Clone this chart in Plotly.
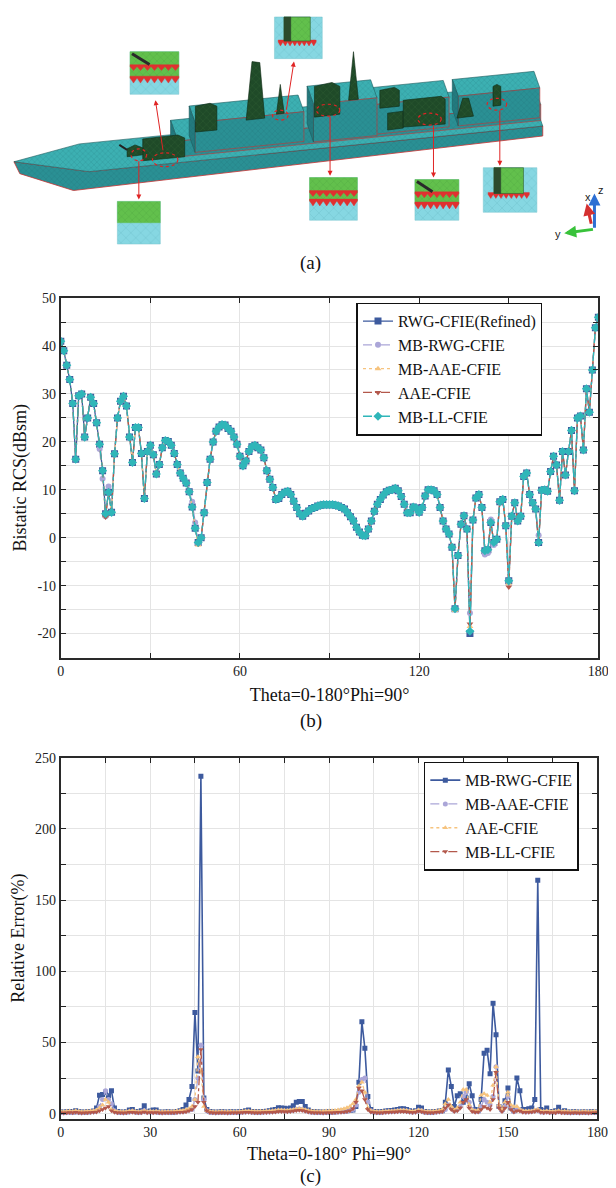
import plotly.graph_objects as go

W, H = 616, 1188
SERIF = 'Liberation Serif'

theta = list(range(0, 181))

# ---- (b) bistatic RCS in dBsm, one value per degree ----
rcs_rwg_refined = [
    41, 39, 36, 33, 28, 16.4, 29.6, 30, 21, 25,
    29.3, 28, 24, 19.5, 14, 5, 9.5, 5.3, 17.5, 25,
    28.5, 29.5, 27.5, 21, 15.7, 23, 23, 17.6, 8.2, 18,
    19.3, 17.3, 13.3, 15.3, 18.8, 20.3, 20.1, 19.3, 17.6, 15.3,
    13.5, 12.4, 11.4, 9.6, 6.4, 2, -1, 0, 5.2, 11.5,
    16.4, 20, 22.2, 23.1, 23.6, 23.5, 22.8, 22.2, 21, 19.5,
    17, 15, 16, 18, 19, 19.3, 18.8, 18.3, 16.7, 14,
    12.2, 10.5, 8, 8.2, 9, 9.5, 9.7, 9, 7.6, 6.3,
    5, 4.5, 5.1, 5.6, 6.1, 6.3, 6.6, 6.8, 6.9, 6.9,
    6.9, 6.9, 6.8, 6.6, 6.3, 6, 5.2, 4.4, 3.5, 2.2,
    1.2, 0.5, 0.4, 1.8, 3.5, 5.5, 7, 8, 8.9, 9.6,
    9.9, 10, 10.3, 9.8, 8.6, 7, 5.2, 5.2, 6.4, 6.2,
    5.3, 6.3, 8.7, 10, 10, 9.8, 9, 6.3, 3.5, 1.8,
    0.8, -2, -14.8, -3.7, 2.8, 4.6, 1.8, -20, 3.7, 8.3,
    9, 6.3, -2.7, -2.5, 3.2, -1, -0.3, 7.5, 8, 2.5,
    -9, 4.5, 7.3, 3.5, 4.5, 12.8, 13.5, 9, 7.3, 6,
    -1, 9.9, 10, 9.7, 13.8, 17, 15.2, 7.8, 18, 13.1,
    18, 22.4, 9.8, 25, 25.4, 18.3, 31.1, 26.2, 35, 43.8,
    46]

# the other solvers sit on top of the refined curve except at a few nulls
mb_rwg_changes = {13: 18.5, 14: 12.3, 15: 4.5, 16: 10.7, 44: 7.5, 45: 3.2, 46: -1.2,
                  137: -15.7, 142: -3.5, 143: -3.2, 144: 3.8, 145: -1.5, 160: 0.5}
mb_aae_changes = {15: 4.6, 46: -1.5, 132: -15.2, 137: -18.5, 150: -9.5}
aae_changes = {15: 4.3, 46: -1.3, 132: -15, 137: -18, 150: -10.3}
mb_ll_changes = {137: -19.5}

rcs_mb_rwg = [mb_rwg_changes.get(i, v) for i, v in enumerate(rcs_rwg_refined)]
rcs_mb_aae = [mb_aae_changes.get(i, v) for i, v in enumerate(rcs_rwg_refined)]
rcs_aae = [aae_changes.get(i, v) for i, v in enumerate(rcs_rwg_refined)]
rcs_mb_ll = [mb_ll_changes.get(i, v) for i, v in enumerate(rcs_rwg_refined)]

rcs_ticks = [-20, -10, 0, 10, 20, 30, 40, 50]

# ---- (c) relative error in % ----
err_mb_rwg = [
    1.2, 1.0, 1.3, 1.5, 1.2, 2.0, 1.4, 1.1, 1.0, 1.3,
    1.5, 1.8, 4.0, 13.0, 13.5, 15.0, 12.5, 16.0, 4.0, 1.5,
    1.2, 1.0, 1.4, 2.5, 3.0, 1.5, 1.2, 2.0, 5.5, 1.5,
    1.8, 2.5, 2.5, 1.2, 1.0, 1.1, 1.3, 1.0, 1.2, 1.5,
    2.0, 3.0, 6.0, 10.0, 19.0, 71.0, 30.0, 237.0, 11.0, 3.0,
    1.5, 1.2, 1.0, 1.1, 1.3, 1.2, 1.0, 1.4, 1.2, 1.1,
    1.3, 1.5, 2.0, 2.5, 1.5, 1.4, 1.2, 1.3, 1.5, 1.6,
    2.0, 2.5, 3.0, 4.2, 4.0, 3.8, 3.5, 4.0, 5.5, 8.0,
    8.5, 8.5, 5.0, 2.5, 1.5, 1.3, 1.2, 1.1, 1.0, 1.2,
    1.3, 1.2, 1.4, 1.5, 1.6, 1.8, 2.0, 2.2, 2.5, 5.0,
    22.0, 64.5, 46.0, 12.0, 3.0, 1.5, 1.3, 1.2, 1.5, 1.8,
    2.0, 2.2, 2.5, 3.0, 3.5, 3.5, 3.0, 2.0, 1.5, 2.0,
    4.5, 4.0, 1.5, 1.2, 1.0, 1.3, 1.5, 1.8, 2.0, 8.0,
    30.6, 19.0, 5.0, 12.5, 14.0, 8.0, 11.0, 21.0, 12.5, 3.0,
    2.0, 10.0, 42.5, 44.6, 28.0, 77.5, 55.5, 5.0, 3.0, 9.0,
    18.0, 4.0, 2.0, 25.0, 16.0, 3.0, 3.0, 3.5, 4.0, 10.0,
    164.0, 3.0, 2.0, 4.0, 1.5, 1.5, 2.0, 4.5, 1.5, 2.0,
    1.2, 1.0, 1.3, 1.2, 1.0, 1.1, 1.2, 1.0, 1.3, 1.2,
    1.0]
err_mb_aae = [
    0.8, 0.6, 0.9, 1.0, 0.8, 1.2, 0.9, 0.7, 0.8, 1.0,
    1.1, 1.3, 2.0, 5.0, 10.0, 16.0, 10.0, 7.0, 2.0, 1.0,
    0.8, 0.7, 0.9, 1.2, 1.5, 1.0, 0.8, 1.0, 2.0, 1.0,
    1.2, 1.0, 1.1, 0.8, 0.7, 0.8, 0.9, 0.8, 1.0, 1.1,
    1.3, 1.5, 2.0, 2.5, 3.0, 10.0, 25.0, 48.0, 10.0, 2.0,
    1.0, 0.8, 0.7, 0.8, 0.9, 0.8, 0.7, 0.9, 0.8, 0.8,
    0.9, 1.0, 1.2, 1.3, 1.0, 0.9, 0.8, 0.9, 1.0, 1.1,
    1.2, 1.4, 1.6, 2.0, 2.0, 1.9, 1.8, 2.0, 2.4, 3.0,
    3.2, 3.0, 2.2, 1.5, 1.0, 0.9, 0.8, 0.8, 0.7, 0.8,
    0.9, 0.9, 1.0, 1.1, 1.3, 1.5, 1.8, 2.2, 3.0, 6.0,
    15.0, 24.0, 25.0, 8.0, 2.0, 1.0, 0.9, 0.8, 1.0, 1.2,
    1.3, 1.4, 1.5, 1.8, 2.0, 2.0, 1.8, 1.4, 1.0, 1.3,
    2.2, 2.0, 1.0, 0.9, 0.8, 1.0, 1.2, 1.4, 1.8, 3.0,
    6.0, 4.0, 2.0, 3.0, 5.0, 12.0, 15.0, 8.0, 3.0, 1.5,
    1.5, 5.0, 10.0, 8.0, 6.0, 12.0, 33.0, 5.0, 2.0, 5.0,
    12.0, 4.0, 1.5, 3.0, 2.5, 1.5, 1.2, 1.3, 1.5, 2.0,
    2.5, 1.2, 1.0, 1.3, 1.0, 0.9, 1.0, 1.5, 0.9, 1.0,
    0.8, 0.7, 0.9, 0.8, 0.7, 0.8, 0.9, 0.7, 0.8, 0.9,
    0.8]
err_aae = [
    1.5, 1.3, 1.6, 1.8, 1.5, 2.0, 1.7, 1.4, 1.5, 1.6,
    1.8, 2.0, 2.5, 4.0, 6.0, 10.0, 8.0, 3.0, 1.8, 1.5,
    1.4, 1.3, 1.5, 1.8, 2.0, 1.6, 1.4, 1.5, 2.0, 1.5,
    1.6, 1.5, 1.6, 1.4, 1.3, 1.4, 1.5, 1.4, 1.6, 1.8,
    2.0, 2.3, 2.8, 3.5, 5.0, 10.0, 40.0, 30.0, 5.0, 2.0,
    1.6, 1.4, 1.3, 1.4, 1.5, 1.4, 1.3, 1.5, 1.4, 1.4,
    1.5, 1.6, 1.8, 1.9, 1.7, 1.6, 1.5, 1.6, 1.7, 1.8,
    1.9, 2.0, 2.2, 2.5, 2.5, 2.4, 2.3, 2.5, 2.8, 3.2,
    3.5, 3.3, 2.8, 2.2, 1.8, 1.6, 1.5, 1.5, 1.6, 1.8,
    1.9, 2.0, 2.2, 2.5, 3.0, 3.5, 4.2, 5.0, 7.0, 10.0,
    19.5, 22.0, 15.0, 4.0, 2.0, 1.6, 1.5, 1.4, 1.6, 1.7,
    1.8, 1.9, 2.0, 2.2, 2.4, 2.4, 2.2, 1.9, 1.6, 1.8,
    2.5, 2.2, 1.6, 1.5, 1.5, 1.7, 1.9, 2.2, 3.0, 7.0,
    10.0, 5.0, 2.5, 4.0, 8.0, 17.0, 17.0, 6.0, 2.5, 2.0,
    2.5, 13.0, 14.0, 13.0, 8.0, 20.0, 33.0, 6.0, 3.0, 8.0,
    15.0, 6.0, 5.0, 5.0, 3.0, 2.0, 1.8, 1.8, 1.9, 2.5,
    3.0, 1.8, 1.6, 1.8, 1.6, 1.5, 1.6, 2.0, 1.5, 1.6,
    1.5, 1.4, 1.5, 1.5, 1.4, 1.5, 1.5, 1.4, 1.5, 1.6,
    1.5]
err_mb_ll = [
    0.6, 0.5, 0.7, 0.8, 0.6, 0.9, 0.7, 0.5, 0.6, 0.7,
    0.8, 0.9, 1.2, 2.0, 3.0, 4.0, 5.0, 2.0, 1.0, 0.7,
    0.6, 0.5, 0.7, 0.9, 1.0, 0.8, 0.6, 0.7, 1.2, 0.7,
    0.8, 0.7, 0.8, 0.6, 0.5, 0.6, 0.7, 0.6, 0.7, 0.8,
    0.9, 1.0, 1.3, 2.0, 3.0, 5.0, 8.0, 45.0, 8.0, 2.0,
    0.8, 0.6, 0.5, 0.6, 0.7, 0.6, 0.5, 0.7, 0.6, 0.6,
    0.7, 0.8, 0.9, 1.0, 0.8, 0.7, 0.6, 0.7, 0.8, 0.8,
    0.9, 1.0, 1.2, 1.5, 1.5, 1.4, 1.3, 1.5, 1.8, 2.2,
    2.4, 2.2, 1.6, 1.1, 0.8, 0.7, 0.6, 0.6, 0.5, 0.6,
    0.7, 0.7, 0.8, 0.9, 1.0, 1.2, 1.5, 2.0, 3.5, 8.0,
    18.0, 16.0, 10.0, 3.0, 1.2, 0.8, 0.7, 0.6, 0.7, 0.9,
    1.0, 1.1, 1.2, 1.4, 1.5, 1.5, 1.3, 1.0, 0.8, 1.0,
    1.6, 1.4, 0.8, 0.7, 0.6, 0.7, 0.9, 1.1, 1.5, 4.0,
    6.0, 3.0, 1.5, 2.0, 4.0, 8.0, 10.0, 4.0, 1.5, 1.0,
    1.2, 3.0, 5.0, 4.0, 3.0, 10.0, 29.0, 4.0, 1.5, 4.0,
    8.0, 3.0, 1.2, 2.0, 1.8, 1.0, 0.9, 1.0, 1.1, 1.5,
    2.0, 0.9, 0.7, 1.0, 0.7, 0.6, 0.7, 1.1, 0.6, 0.7,
    0.6, 0.5, 0.7, 0.6, 0.5, 0.6, 0.7, 0.5, 0.6, 0.7,
    0.6]

BLUE = '#3d5a9e'
LAVENDER = '#aba6d8'
ORANGE = '#f6c37e'
BROWN = '#b3584b'
TEAL = '#2fb6b9'


def py(y):
    # page pixel row -> paper fraction
    return 1 - y / H


fig = go.Figure()

# ---------------- (a) ship sketch, drawn in page pixels on a hidden axis ----------------
def P(u, v, h=0):
    return (79 + 465 * u - 10 * v, 158 - 46 * u - 28 * v - h)


def poly(pts, fill, line='#1c5a5c', lw=0.6, pattern=None):
    xs = [p[0] for p in pts] + [pts[0][0]]
    ys = [p[1] for p in pts] + [pts[0][1]]
    kw = {}
    if pattern is not None:
        kw['fillpattern'] = pattern
    fig.add_trace(go.Scatter(x=xs, y=ys, mode='lines', fill='toself', fillcolor=fill,
                             line=dict(color=line, width=lw), hoverinfo='skip',
                             showlegend=False, xaxis='x3', yaxis='y3', **kw))


def mesh(bg, fg='#16565a', size=4, sol=0.12):
    return dict(shape='x', size=size, solidity=sol, fgcolor=fg, bgcolor=bg)


DECK = '#3cb0b2'
SIDE = '#2a9094'
FRONT = '#237a7e'
GREEN = '#1f4a28'

tip = (2, 148)
poly([tip, P(0, 0), P(1, 0), (P(1, 0)[0], P(1, 0)[1] + 10), (63, 177), (8, 160)], SIDE,
     line='#c83232', lw=0.8, pattern=mesh(SIDE))
poly([tip, P(0, 1), P(1, 1), P(1, 0), P(0, 0)], DECK, pattern=mesh(DECK))


def block(u0, u1, v0, v1, h):
    poly([P(u0, v0, h), P(u1, v0, h), P(u1, v1, h), P(u0, v1, h)], DECK, pattern=mesh(DECK))
    poly([P(u0, v0), P(u1, v0), P(u1, v0, h), P(u0, v0, h)], SIDE, line='#c83232', pattern=mesh(SIDE))
    poly([P(u0, v0), P(u0, v1), P(u0, v1, h), P(u0, v0, h)], FRONT, pattern=mesh(FRONT))


block(0.2, 1.0, 0.2, 0.95, 16)
block(0.82, 1.0, 0.3, 0.9, 30)
block(0.64, 0.8, 0.3, 0.9, 30)
block(0.5, 0.64, 0.25, 0.9, 38)
block(0.24, 0.48, 0.3, 0.9, 30)

objects = [
    [(134, 125), (170, 121), (177, 124), (177, 143), (134, 147)],
    [(118, 143), (134, 141), (134, 134), (126, 131), (118, 135)],
    [(188, 92), (203, 89), (210, 92), (210, 116), (188, 118)],
    [(240, 106), (259, 104), (254, 48), (246, 47)],
    [(271, 100), (279, 99), (275, 70)],
    [(310, 72), (328, 68), (336, 72), (336, 100), (310, 103)],
    [(345, 86), (355, 85), (350, 37)],
    [(377, 76), (392, 73), (397, 76), (397, 92), (377, 94)],
    [(385, 99), (401, 97), (401, 114), (385, 116)],
    [(401, 86), (440, 82), (444, 85), (444, 110), (401, 113)],
    [(456, 104), (473, 102), (468, 84), (462, 84)],
    [(493, 92), (501, 91), (501, 72), (497, 70), (493, 72)],
]
for ob in objects:
    poly(ob, GREEN, line='#0f2a14', lw=0.6, pattern=mesh(GREEN, fg='#3f6f3f', size=5, sol=0.15))
fig.add_trace(go.Scatter(x=[118, 110], y=[136, 131], mode='lines', line=dict(color='#222', width=2),
                         hoverinfo='skip', showlegend=False, xaxis='x3', yaxis='y3'))


def zigzag(x0, x1, y, n, depth):
    pts = []
    step = (x1 - x0) / n
    for k in range(n):
        pts.append((x0 + k * step, y))
        pts.append((x0 + (k + 0.5) * step, y + depth))
    pts.append((x1, y))
    pts.append((x1, y - 2))
    pts.append((x0, y - 2))
    return pts


LIGHT_CYAN = '#86d7e2'
LIGHT_GREEN = '#62c04c'
insets = [
    (121, 37, 171, 80, 0.62, 'rod'),
    (269, 2, 318, 44, 0.6, 'cyl'),
    (108, 188, 152, 231, 0.5, 'plain'),
    (305, 164, 354, 207, 0.55, 'zig'),
    (413, 166, 458, 207, 0.6, 'rod'),
    (483, 154, 538, 199, 0.6, 'cyl'),
]
for x0, y0, x1, y1, f, kind in insets:
    yb = y0 + f * (y1 - y0)
    poly([(x0, y0), (x1, y0), (x1, y1), (x0, y1)], LIGHT_CYAN, line='#7ac4cf', lw=0.5,
         pattern=mesh(LIGHT_CYAN, fg='#3f8f99', size=7, sol=0.08))
    if kind == 'cyl':
        cx0 = x0 + 0.2 * (x1 - x0)
        cx1 = x0 + 0.75 * (x1 - x0)
        poly(zigzag(cx0 - 6, cx1 + 6, yb, 8, 4), '#e03030', line='#e03030', lw=0.4)
        poly([(cx0, y0), (cx1, y0), (cx1, yb - 1), (cx0, yb - 1)], LIGHT_GREEN, line='#2f5f2f', lw=0.6,
             pattern=mesh(LIGHT_GREEN, fg='#2f7f2f', size=5, sol=0.1))
        poly([(cx0, y0), (cx0 + 7, y0), (cx0 + 7, yb - 1), (cx0, yb - 1)], '#2c4a2c', line='#2c4a2c', lw=0.4)
    else:
        poly([(x0, y0), (x1, y0), (x1, yb), (x0, yb)], LIGHT_GREEN, line=LIGHT_GREEN, lw=0.4,
             pattern=mesh(LIGHT_GREEN, fg='#2f7f2f', size=5, sol=0.1))
        if kind != 'plain':
            poly(zigzag(x0, x1, yb, 7, 5), '#e03030', line='#e03030', lw=0.4)
            poly(zigzag(x0, x1, y0 + 0.35 * (y1 - y0), 7, 4), '#e03030', line='#e03030', lw=0.4)
        if kind == 'rod':
            fig.add_trace(go.Scatter(x=[x0 + 2, x0 + 0.4 * (x1 - x0)], y=[y0 + 2, y0 + 0.3 * (y1 - y0)],
                                     mode='lines', line=dict(color='#2a2a2a', width=3),
                                     hoverinfo='skip', showlegend=False, xaxis='x3', yaxis='y3'))

shapes = []
for cx, cy, rx, ry in [(130, 141, 8, 6), (157, 146, 13, 7), (275, 101, 8, 5),
                       (324, 96, 12, 6), (428, 105, 12, 6), (497, 90, 10, 6)]:
    shapes.append(dict(type='circle', xref='x3', yref='y3', x0=cx - rx, x1=cx + rx, y0=cy - ry, y1=cy + ry,
                       line=dict(color='#e02424', width=1.2, dash='dot')))

annotations = []
for (sx, sy), (ex, ey) in [((155, 138), (147, 86)), ((281, 97), (289, 47)), ((130, 146), (130, 186)),
                           ((326, 101), (326, 162)), ((432, 110), (432, 164)), ((500, 95), (500, 152))]:
    annotations.append(dict(x=ex, y=ey, ax=sx, ay=sy, xref='x3', yref='y3', axref='x3', ayref='y3',
                            text='', showarrow=True, arrowhead=2, arrowsize=1, arrowwidth=1,
                            arrowcolor='#e02424'))

# small coordinate triad
for (sx, sy), (ex, ey), col in [((597, 216), (597, 180), '#2d6fd3'), ((597, 216), (566, 220), '#38c23a'),
                                ((594, 212), (589, 190), '#d43030')]:
    annotations.append(dict(x=ex, y=ey, ax=sx, ay=sy, xref='x3', yref='y3', axref='x3', ayref='y3',
                            text='', showarrow=True, arrowhead=2, arrowsize=0.8, arrowwidth=3,
                            arrowcolor=col))
for txt, x, y in [('z', 604, 176), ('y', 560, 221), ('x', 590, 184)]:
    annotations.append(dict(x=x, y=y, xref='x3', yref='y3', text=txt, showarrow=False,
                            font=dict(family='Liberation Sans', size=11, color='#222')))

# ---------------- (b) and (c) curves ----------------
fig.add_trace(go.Scatter(x=theta, y=rcs_rwg_refined, name='RWG-CFIE(Refined)', mode='lines+markers',
                         line=dict(color=BLUE, width=1.3),
                         marker=dict(symbol='square', size=7, color=BLUE),
                         legend='legend', xaxis='x', yaxis='y'))
fig.add_trace(go.Scatter(x=theta, y=rcs_mb_rwg, name='MB-RWG-CFIE', mode='lines+markers',
                         line=dict(color=LAVENDER, width=1.3, dash='dash'),
                         marker=dict(symbol='circle', size=6, color=LAVENDER),
                         legend='legend', xaxis='x', yaxis='y'))
fig.add_trace(go.Scatter(x=theta, y=rcs_mb_aae, name='MB-AAE-CFIE', mode='lines+markers',
                         line=dict(color=ORANGE, width=1.3, dash='dot'),
                         marker=dict(symbol='triangle-up', size=6, color=ORANGE),
                         legend='legend', xaxis='x', yaxis='y'))
fig.add_trace(go.Scatter(x=theta, y=rcs_aae, name='AAE-CFIE', mode='lines+markers',
                         line=dict(color=BROWN, width=1.3, dash='dashdot'),
                         marker=dict(symbol='triangle-down', size=6, color=BROWN),
                         legend='legend', xaxis='x', yaxis='y'))
fig.add_trace(go.Scatter(x=theta, y=rcs_mb_ll, name='MB-LL-CFIE', mode='lines+markers',
                         line=dict(color=TEAL, width=1.3, dash='dashdot'),
                         marker=dict(symbol='diamond', size=7, color=TEAL),
                         legend='legend', xaxis='x', yaxis='y'))

fig.add_trace(go.Scatter(x=theta, y=err_mb_rwg, name='MB-RWG-CFIE', mode='lines+markers',
                         line=dict(color=BLUE, width=1.6),
                         marker=dict(symbol='square', size=5, color=BLUE),
                         legend='legend2', xaxis='x2', yaxis='y2'))
fig.add_trace(go.Scatter(x=theta, y=err_mb_aae, name='MB-AAE-CFIE', mode='lines+markers',
                         line=dict(color=LAVENDER, width=1.3, dash='dash'),
                         marker=dict(symbol='circle', size=5, color=LAVENDER),
                         legend='legend2', xaxis='x2', yaxis='y2'))
fig.add_trace(go.Scatter(x=theta, y=err_aae, name='AAE-CFIE', mode='lines+markers',
                         line=dict(color=ORANGE, width=1.3, dash='dot'),
                         marker=dict(symbol='triangle-up', size=5, color=ORANGE),
                         legend='legend2', xaxis='x2', yaxis='y2'))
fig.add_trace(go.Scatter(x=theta, y=err_mb_ll, name='MB-LL-CFIE', mode='lines+markers',
                         line=dict(color=BROWN, width=1.3, dash='dashdot'),
                         marker=dict(symbol='triangle-down', size=5, color=BROWN),
                         legend='legend2', xaxis='x2', yaxis='y2'))


def frame(**kw):
    base = dict(showline=True, linecolor='#2a2a2a', linewidth=1.8, mirror='ticks',
                ticks='inside', ticklen=5, tickwidth=1.4, tickcolor='#222',
                showgrid=True, gridcolor='#e4e4e4', gridwidth=1, zeroline=False,
                tickfont=dict(family=SERIF, size=14, color='#222'),
                title_font=dict(family=SERIF, size=18, color='#111'), fixedrange=True)
    base.update(kw)
    return base


def minor(step):
    return dict(dtick=step, showgrid=True, gridcolor='#e4e4e4', ticks='inside', ticklen=5,
                tickwidth=1.2, tickcolor='#222')


legend_style = dict(xanchor='left', yanchor='top', bgcolor='white', bordercolor='#111', borderwidth=1.6,
                    font=dict(family=SERIF, size=16, color='#111'), tracegroupgap=0)

for txt, y in [('(a)', 250), ('(b)', 712), ('(c)', 1171)]:
    annotations.append(dict(x=306 / W, y=py(y), xref='paper', yref='paper', text=txt, showarrow=False,
                            yanchor='middle', font=dict(family=SERIF, size=19, color='#111')))

fig.update_layout(
    width=W, height=H, margin=dict(l=0, r=0, t=0, b=0),
    paper_bgcolor='white', plot_bgcolor='white',
    xaxis=frame(domain=[50 / W, 601 / W], range=[0, 180], dtick=60, tick0=0, minor=minor(30),
                title=dict(text='Theta=0-180°Phi=90°', standoff=10), anchor='y'),
    yaxis=frame(domain=[py(648), py(285.5)], range=[-25, 50], tickmode='array', tickvals=rcs_ticks,
                ticktext=[str(t) for t in rcs_ticks], minor=minor(5),
                title=dict(text='Bistatic RCS(dBsm)', standoff=6), anchor='x'),
    xaxis2=frame(domain=[50 / W, 600 / W], range=[0, 180], dtick=30, tick0=0, minor=minor(15),
                 title=dict(text='Theta=0-180° Phi=90°', standoff=8), anchor='y2'),
    yaxis2=frame(domain=[py(1113), py(749)], range=[-3.5, 250], dtick=50, tick0=0, minor=minor(25),
                 title=dict(text='Relative Error(%)', standoff=6), anchor='x2'),
    xaxis3=dict(domain=[0, 1], range=[0, W], visible=False, fixedrange=True, anchor='y3'),
    yaxis3=dict(domain=[py(265), 1], range=[265, 0], visible=False, fixedrange=True, anchor='x3'),
    legend=dict(x=353 / W, y=py(290), **legend_style),
    legend2=dict(x=422 / W, y=py(753), **legend_style),
    shapes=shapes, annotations=annotations,
)

fig.write_html('out.html')
